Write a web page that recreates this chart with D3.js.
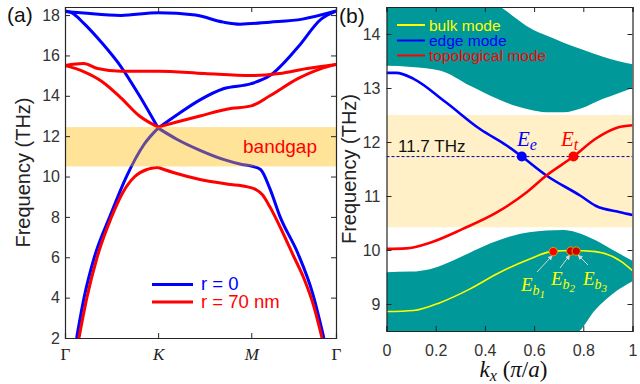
<!DOCTYPE html>
<html><head><meta charset="utf-8">
<script src="https://cdn.jsdelivr.net/npm/d3@7"></script>
<style>
body{margin:0;background:#fff;}
svg{display:block;}
</style></head>
<body>
<svg id="chart" width="640" height="384"></svg>
<script>
// ---------------- Panel (a) data: band structure along Γ-K-M-Γ ----------------
const aTickPos = [0, 1, 2, 2.91];
const aTickLabels = ["Γ", "K", "M", "Γ"];
const aYTicks = [2, 4, 6, 8, 10, 12, 14, 16, 18];
const aBandgap = [10.5, 12.45];

const blueTop = [[0,18.18],[0.2,18.1],[0.6,17.98],[1,18.12],[1.4,18.0],[1.7,17.65],[1.88,17.55],[2.2,17.65],[2.55,17.8],[2.91,18.2]];
const blueDownToK = [[0,18.2],[0.08,18.1],[0.2,17.6],[0.4,16.6],[0.6,15.45],[0.8,14.0],[1,12.4]];
const blueUpFromK = [[1,12.4],[1.2,13.05],[1.45,13.8],[1.7,14.35],[2,14.6],[2.2,15.0],[2.5,16.4],[2.75,17.8],[2.91,18.2]];
const blueLowLeft = [[0.125,2],[0.205,4],[0.315,6],[0.48,8],[0.66,10],[0.85,11.6],[1,12.4]];
const blueDownFromK = [[1,12.4],[1.2,11.85],[1.45,11.3],[1.7,10.85],[1.9,10.6],[2.0,10.52],[2.1,10.35],[2.2,9.4],[2.31,8.0],[2.5,6.2],[2.66,4.2],[2.78,2]];

const redTop = [[0,15.5],[0.2,15.6],[0.35,15.35],[0.6,15.22],[1,15.22],[1.5,15.1],[2,15.0],[2.3,15.1],[2.6,15.35],[2.91,15.55]];
const redDownToK = [[0,15.5],[0.2,15.2],[0.4,14.7],[0.6,13.9],[0.8,13.0],[1,12.45]];
const redUpFromK = [[1,12.45],[1.2,12.7],[1.45,13.0],[1.75,13.35],[2,13.5],[2.2,14.0],[2.5,14.85],[2.75,15.35],[2.91,15.55]];
const redLowLeft = [[0.15,2],[0.235,4],[0.345,6],[0.5,8],[0.62,9.2],[0.75,10.0],[0.88,10.35],[1,10.45]];
const redDownFromK = [[1,10.45],[1.2,10.15],[1.45,9.85],[1.75,9.62],[1.95,9.5],[2.05,9.35],[2.12,9.1],[2.2,8.5],[2.32,7.4],[2.45,6.1],[2.57,4.9],[2.67,3.6],[2.76,2]];

const aLegend = ["r = 0", "r = 70 nm"];

// ---------------- Panel (b) data: projected band vs kx ----------------
const bXTicks = [0, 0.2, 0.4, 0.6, 0.8, 1];
const bYTicks = [9, 10, 11, 12, 13, 14];
const bBandgap = [10.42, 12.5];
// [kx, lower, upper]
const upperBulk = [[0,13.41,14.6],[0.1,13.39,14.6],[0.22,13.32,14.6],[0.34,13.04,14.6],[0.45,12.8,14.52],[0.53,12.66,14.28],[0.58,12.6,14.12],[0.65,12.55,13.97],[0.72,12.55,13.84],[0.79,12.62,13.72],[0.88,12.8,13.58],[0.94,12.9,13.5],[1,13.0,13.44]];
const lowerBulk = [[0,8.4,9.59],[0.1,8.4,9.6],[0.18,8.4,9.65],[0.31,8.4,9.89],[0.4,8.4,10.08],[0.51,8.4,10.26],[0.65,8.4,10.36],[0.72,8.4,10.37],[0.77,8.45,10.33],[0.85,8.9,10.18],[0.92,9.19,10.0],[1,9.42,9.8]];
const bulkMode = [[0,8.86],[0.11,8.88],[0.22,9.03],[0.34,9.28],[0.45,9.56],[0.58,9.83],[0.68,9.98],[0.75,9.99],[0.85,9.97],[0.95,9.8],[1,9.62]];
const edgeMode = [[0,13.28],[0.04,13.28],[0.11,13.17],[0.24,12.74],[0.38,12.24],[0.49,11.93],[0.55,11.73],[0.65,11.38],[0.79,11.0],[0.85,10.82],[0.95,10.7],[1,10.65]];
const topoMode = [[0,10.02],[0.08,10.03],[0.18,10.14],[0.31,10.39],[0.45,10.7],[0.57,11.07],[0.65,11.38],[0.76,11.73],[0.85,12.06],[0.94,12.27],[1,12.31]];
const fixedFreq = 11.73;
const ePoints = [{k:0.55, f:11.73, name:"e", color:"#0000ff"}, {k:0.76, f:11.73, name:"t", color:"#ff0000"}];
const bPoints = [{k:0.678, f:9.97, idx:"1"}, {k:0.749, f:9.98, idx:"2"}, {k:0.771, f:9.98, idx:"3"}];
const bLegend = ["bulk mode", "edge mode", "topological mode"];

// ---------------- drawing ----------------
const svg = d3.select("#chart");
const axisColor = "#262626";
const sans = "'Liberation Sans', Arial, sans-serif";
const serif = "'Liberation Serif', 'Times New Roman', serif";

const defs = svg.append("defs");

// ===== Panel (a) =====
const A = {l:65, r:336, t:7, b:338};
const xa = d3.scaleLinear().domain([0, 2.91]).range([A.l, A.r]);
const ya = d3.scaleLinear().domain([2, 18.4]).range([A.b, A.t]);
defs.append("clipPath").attr("id","clipA").append("rect")
  .attr("x",A.l).attr("y",A.t).attr("width",A.r-A.l).attr("height",A.b-A.t);

const ga = svg.append("g");
const lineA = d3.line().x(d=>xa(d[0])).y(d=>ya(d[1])).curve(d3.curveMonotoneX);
const gaL = ga.append("g").attr("clip-path","url(#clipA)");
[blueTop, blueDownToK, blueUpFromK, blueLowLeft, blueDownFromK].forEach(s=>{
  gaL.append("path").attr("d", lineA(s)).attr("fill","none").attr("stroke","#0000ff").attr("stroke-width",3).attr("stroke-linejoin","round");
});
[redTop, redDownToK, redUpFromK, redLowLeft, redDownFromK].forEach(s=>{
  gaL.append("path").attr("d", lineA(s)).attr("fill","none").attr("stroke","#ff0000").attr("stroke-width",3).attr("stroke-linejoin","round");
});
// bandgap overlay (semi transparent, on top of lines)
ga.append("rect").attr("x",A.l).attr("width",A.r-A.l)
  .attr("y",ya(aBandgap[1])).attr("height",ya(aBandgap[0])-ya(aBandgap[1]))
  .attr("fill","#fcb800").attr("fill-opacity",0.4);
ga.append("text").attr("x",243).attr("y",153).attr("fill","#ff0000")
  .attr("font-family",sans).attr("font-size",19).text("bandgap");

// axes (a)
const axLeftA = ga.append("g").attr("transform",`translate(${A.l},0)`)
  .call(d3.axisLeft(ya).tickValues(aYTicks).tickSize(-5).tickPadding(5).tickFormat(d3.format("d")));
const axRightA = ga.append("g").attr("transform",`translate(${A.r},0)`)
  .call(d3.axisRight(ya).tickValues(aYTicks).tickSize(-5).tickFormat(""));
const axBottomA = ga.append("g").attr("transform",`translate(0,${A.b})`)
  .call(d3.axisBottom(xa).tickValues(aTickPos).tickSize(-5).tickPadding(10).tickFormat((d,i)=>aTickLabels[i]));
const axTopA = ga.append("g").attr("transform",`translate(0,${A.t})`)
  .call(d3.axisTop(xa).tickValues(aTickPos).tickSize(-5).tickFormat(""));
[axLeftA, axRightA, axBottomA, axTopA].forEach(g=>{
  g.select(".domain").attr("stroke",axisColor).attr("stroke-width",1.2);
  g.selectAll(".tick line").attr("stroke",axisColor);
});
axLeftA.selectAll("text").attr("font-family",sans).attr("font-size",16).attr("fill","#333");
axBottomA.selectAll("text").attr("font-family",serif).attr("font-size",17).attr("fill","#222")
  .attr("font-style",(d,i)=> (i===1||i===2) ? "italic" : "normal");
ga.append("text").attr("transform",`translate(30,${(A.t+A.b)/2}) rotate(-90)`)
  .attr("text-anchor","middle").attr("font-family",sans).attr("font-size",20).attr("fill","#222")
  .text("Frequency (THz)");
ga.append("text").attr("x",7).attr("y",22).attr("font-family",sans).attr("font-size",21).attr("fill","#111").text("(a)");

// legend (a)
const legA = ga.append("g");
[["#0000ff",284.5,290],["#ff0000",302,308]].forEach((c,i)=>{
  legA.append("line").attr("x1",152).attr("x2",193).attr("y1",c[1]).attr("y2",c[1]).attr("stroke",c[0]).attr("stroke-width",3);
  legA.append("text").attr("x",201).attr("y",c[2]).attr("fill",c[0]).attr("font-family",sans).attr("font-size",18.5).text(aLegend[i]);
});

// ===== Panel (b) =====
const B = {l:386.5, r:632.5, t:7, b:331};
const xb = d3.scaleLinear().domain([0,1]).range([B.l,B.r]);
const yb = d3.scaleLinear().domain([8.5,14.5]).range([B.b,B.t]);
defs.append("clipPath").attr("id","clipB").append("rect")
  .attr("x",B.l).attr("y",B.t).attr("width",B.r-B.l).attr("height",B.b-B.t);
const gb = svg.append("g");
const gbC = gb.append("g").attr("clip-path","url(#clipB)");

gbC.append("rect").attr("x",B.l).attr("width",B.r-B.l)
  .attr("y",yb(bBandgap[1])).attr("height",yb(bBandgap[0])-yb(bBandgap[1]))
  .attr("fill","#fff0c8");
const areaB = d3.area().x(d=>xb(d[0])).y0(d=>yb(d[1])).y1(d=>yb(d[2])).curve(d3.curveMonotoneX);
[upperBulk, lowerBulk].forEach(s=>{
  gbC.append("path").attr("d",areaB(s)).attr("fill","#009898");
});
const lineB = d3.line().x(d=>xb(d[0])).y(d=>yb(d[1])).curve(d3.curveMonotoneX);
gbC.append("path").attr("d",lineB(bulkMode)).attr("fill","none").attr("stroke","#ffff00").attr("stroke-width",1.6);
gbC.append("line").attr("x1",B.l).attr("x2",B.r).attr("y1",yb(fixedFreq)).attr("y2",yb(fixedFreq))
  .attr("stroke","#0000a0").attr("stroke-width",1).attr("stroke-dasharray","3,2");
gbC.append("path").attr("d",lineB(edgeMode)).attr("fill","none").attr("stroke","#0000ff").attr("stroke-width",2.6);
gbC.append("path").attr("d",lineB(topoMode)).attr("fill","none").attr("stroke","#ff0000").attr("stroke-width",2.6);

// E_e, E_t points
ePoints.forEach(p=>{
  gb.append("circle").attr("cx",xb(p.k)).attr("cy",yb(p.f)).attr("r",5).attr("fill",p.color);
});
const eLabelPos = [{x:517, y:146}, {x:561, y:146}];
ePoints.forEach((p,i)=>{
  const t = gb.append("text").attr("x",eLabelPos[i].x).attr("y",eLabelPos[i].y)
    .attr("fill",p.color).attr("font-family",serif).attr("font-style","italic").attr("font-size",21);
  t.append("tspan").text("E");
  t.append("tspan").attr("dy",4).attr("font-size",16).text(p.name);
});
gb.append("text").attr("x",398).attr("y",151.5).attr("font-family",sans).attr("font-size",17).attr("fill","#111").text("11.7 THz");

// bulk points & labels
defs.append("marker").attr("id","arr").attr("viewBox","0 0 10 10").attr("refX",9).attr("refY",5)
  .attr("markerWidth",5).attr("markerHeight",5).attr("orient","auto")
  .append("path").attr("d","M0,0 L10,5 L0,10 z").attr("fill","#d8d8d8");
const arrowFrom = [[537,272],[560,268],[588,265]];
bPoints.forEach((p,i)=>{
  gb.append("line").attr("x1",arrowFrom[i][0]).attr("y1",arrowFrom[i][1])
    .attr("x2",xb(p.k) + (i===2?2:-1)).attr("y2",yb(p.f)+4)
    .attr("stroke","#d8d8d8").attr("stroke-width",1).attr("marker-end","url(#arr)");
});
bPoints.forEach((p,i)=>{
  gb.append("circle").attr("cx",xb(p.k)).attr("cy",yb(p.f)).attr("r",4.2)
    .attr("fill", i===0 ? "#ff0000" : "#cc0000").attr("stroke","#e0a000").attr("stroke-width",1);
});
const bLabelPos = [{x:521,y:291},{x:551,y:285},{x:583,y:285}];
bPoints.forEach((p,i)=>{
  const t = gb.append("text").attr("x",bLabelPos[i].x).attr("y",bLabelPos[i].y)
    .attr("fill","#ffff00").attr("font-family",serif).attr("font-style","italic").attr("font-size",19);
  t.append("tspan").text("E");
  t.append("tspan").attr("dy",4).attr("font-size",14).text("b");
  t.append("tspan").attr("dy",3).attr("font-size",11).text(p.idx);
});

// legend (b)
const legColors = ["#ffff00","#0000ff","#ff0000"];
const legY = [25, 40.5, 55.5];
bLegend.forEach((s,i)=>{
  gb.append("line").attr("x1",397).attr("x2",425).attr("y1",legY[i]).attr("y2",legY[i])
    .attr("stroke",legColors[i]).attr("stroke-width",2);
  gb.append("text").attr("x",429).attr("y",legY[i]+5.5).attr("fill",legColors[i])
    .attr("font-family",sans).attr("font-size",15.5).text(s);
});

// axes (b)
const axLeftB = gb.append("g").attr("transform",`translate(${B.l},0)`)
  .call(d3.axisLeft(yb).tickValues(bYTicks).tickSize(-5).tickPadding(6).tickFormat(d3.format("d")));
const axRightB = gb.append("g").attr("transform",`translate(${B.r},0)`)
  .call(d3.axisRight(yb).tickValues(bYTicks).tickSize(-5).tickFormat(""));
const axBottomB = gb.append("g").attr("transform",`translate(0,${B.b})`)
  .call(d3.axisBottom(xb).tickValues(bXTicks).tickSize(-5).tickPadding(14).tickFormat(d3.format("~g")));
const axTopB = gb.append("g").attr("transform",`translate(0,${B.t})`)
  .call(d3.axisTop(xb).tickValues(bXTicks).tickSize(-5).tickFormat(""));
[axLeftB, axRightB, axBottomB, axTopB].forEach(g=>{
  g.select(".domain").attr("stroke",axisColor).attr("stroke-width",1.2);
  g.selectAll(".tick line").attr("stroke",axisColor);
});
axLeftB.selectAll("text").attr("font-family",sans).attr("font-size",16).attr("fill","#333");
axBottomB.selectAll("text").attr("font-family",sans).attr("font-size",16).attr("fill","#333");
gb.append("text").attr("transform",`translate(356,${(B.t+B.b)/2}) rotate(-90)`)
  .attr("text-anchor","middle").attr("font-family",sans).attr("font-size",20).attr("fill","#222")
  .text("Frequency (THz)");
gb.append("text").attr("x",339).attr("y",23).attr("font-family",sans).attr("font-size",21).attr("fill","#111").text("(b)");
const xl = gb.append("text").attr("x",(B.l+B.r)/2+4).attr("y",377).attr("text-anchor","middle")
  .attr("font-family",serif).attr("font-size",23).attr("fill","#111");
xl.append("tspan").attr("font-style","italic").text("k");
xl.append("tspan").attr("font-style","italic").attr("font-size",16).attr("dy",4).text("x");
xl.append("tspan").attr("dy",-4).text(" (");
xl.append("tspan").attr("font-style","italic").text("π");
xl.append("tspan").text("/");
xl.append("tspan").attr("font-style","italic").text("a");
xl.append("tspan").text(")");
</script>
</body></html>
